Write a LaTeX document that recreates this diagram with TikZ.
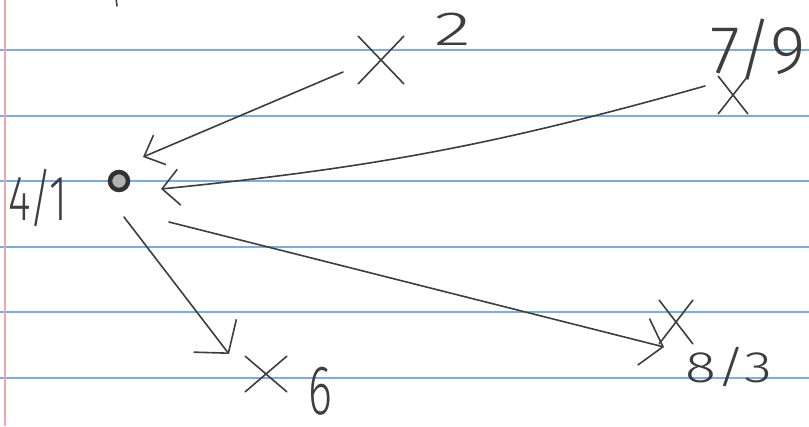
\documentclass[tikz,border=0pt]{standalone}
\usepackage{fontspec}
\newfontfamily\hand{Fira Sans Light}
\usetikzlibrary{arrows.meta,shapes.misc}
\definecolor{ink}{RGB}{62,62,62}
\definecolor{rulecol}{RGB}{125,172,228}
\definecolor{margincol}{RGB}{244,165,172}
\begin{document}
\begin{tikzpicture}[x=1pt,y=-1pt,
  inkline/.style={draw=ink,line width=1.6pt,line cap=round,line join=round},
  xmark/.style={cross out,draw=ink,line width=1.6pt,inner sep=0pt,line cap=round},
  lbl/.style={text=ink,inner sep=0pt,anchor=base},
  paperrule/.style={draw=rulecol,line width=1.3pt},
]
% paper
\fill[white] (0,0) rectangle (809,426);
\useasboundingbox (0,0) rectangle (809,426);
\foreach \yy in {50,116,181,247,312,378}
  \draw[paperrule] (0,\yy) -- (809,\yy);
\draw[draw=margincol,line width=1.8pt] (5,0) -- (5,426);

% tiny stroke at top edge
\draw[inkline] (116,-2) -- (117,6);

% central dot
\node[circle,draw=ink!80!black,line width=4.5pt,fill=gray!60,minimum size=18pt,inner sep=0pt] (dot) at (119,181) {};
\node[lbl] (l41) at (38,220) {\hand\fontsize{64}{64}\selectfont\scalebox{0.68}[1]{4/1}};

% cross marks
\node[xmark,minimum width=44pt,minimum height=46pt] (x2) at (381,60) {};
\node[xmark,minimum width=28pt,minimum height=36pt] (x79) at (733,95) {};
\node[xmark,minimum width=40pt,minimum height=34pt] (x6) at (266,374) {};
\node[xmark,minimum width=32pt,minimum height=42pt] (x83) at (676,322) {};

% labels
\node[lbl] (l2) at (453,45) {\hand\fontsize{48}{48}\selectfont\scalebox{1.6}[1]{2}};
\node[lbl] (l79) at (758,73) {\hand\fontsize{68}{68}\selectfont 7/9};
\node[lbl] (l6) at (320,414) {\hand\fontsize{70}{70}\selectfont\scalebox{0.65}[1]{6}};
\node[lbl] (l83) at (729,382) {\hand\fontsize{44}{44}\selectfont\scalebox{1.3}[1]{8/3}};

% connector end points
\coordinate (x2tail) at (343,72);
\coordinate (dotin1) at (143,157);
\coordinate (x79tail) at (705,86);
\coordinate (dotin2) at (161,189);
\coordinate (dotout1) at (124,217);
\coordinate (x6head) at (229,354);
\coordinate (dotout2) at (169,222);
\coordinate (x83head) at (664,347);

% connectors
\draw[inkline,-{Straight Barb[length=17pt,width=32pt]}] (x2tail) -- (dotin1);
\draw[inkline,-{Straight Barb[length=17pt,width=36pt]}] (x79tail) to[bend left=5] (dotin2);
\draw[inkline,-{Straight Barb[length=22pt,width=54pt]}] (dotout1) -- (x6head);
\draw[inkline,-{Straight Barb[length=20pt,width=48pt]}] (dotout2) -- (x83head);
\end{tikzpicture}
\end{document}
